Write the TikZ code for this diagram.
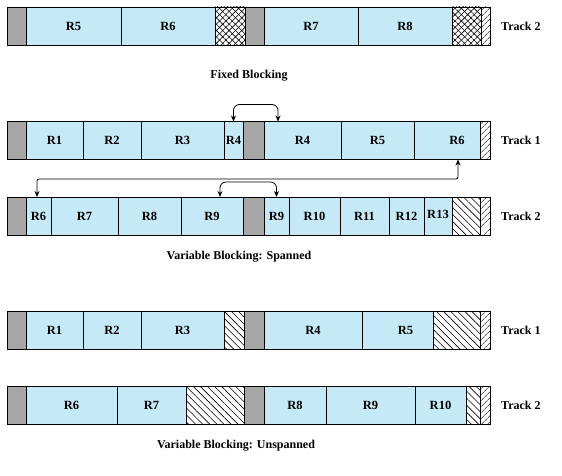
\documentclass[tikz,border=0pt]{standalone}
\usepackage{fontspec}
\setmainfont{Liberation Serif}
\usetikzlibrary{patterns.meta,arrows.meta,calc}
\definecolor{recblue}{RGB}{197,233,247}
\definecolor{hdrgray}{RGB}{166,166,166}
\newcommand\cellbox[6]{\node[#5, minimum width={(#3-#2)*1pt}] (#1) at (#2,#4) {#6};}
\tikzset{
  cellbase/.style={draw=black, line width=0.8pt, inner sep=0pt, outer sep=0pt,
    minimum height=38pt, anchor=west, font=\bfseries\fontsize{12.5}{12.5}\selectfont},
  rec/.style={cellbase, fill=recblue},
  hdr/.style={cellbase, fill=hdrgray},
  gapse/.style={cellbase, fill=white, postaction={pattern={Lines[angle=-45,distance=5pt,line width=0.6pt]}}},
  gapne/.style={cellbase, fill=white, postaction={pattern={Lines[angle=45,distance=4pt,line width=0.6pt]}}},
  gapx/.style={cellbase, fill=white, postaction={pattern={Lines[angle=45,distance=4.5pt,line width=0.6pt]}},
    postaction={pattern={Lines[angle=-45,distance=4.5pt,line width=0.6pt]}}},
  tracklbl/.style={anchor=west, inner sep=0pt, font=\bfseries\fontsize{12}{12}\selectfont},
  caption/.style={inner sep=0pt, font=\bfseries\fontsize{12}{12}\selectfont},
  arr/.style={line width=0.8pt, {Stealth[length=6pt,width=5pt]}-{Stealth[length=6pt,width=5pt]}, rounded corners=6pt},
}
\begin{document}
\begin{tikzpicture}[x=1pt,y=-1pt]
\useasboundingbox (0,0) rectangle (562,476);
% ---------- Row 1: Fixed blocking, Track 2
\cellbox{a1}{7}{26}{26}{hdr}{}
\cellbox{aR5}{26}{121}{26}{rec}{R5}
\cellbox{aR6}{121}{215}{26}{rec}{R6}
\cellbox{ax1}{215}{245}{26}{gapx}{}
\cellbox{a2}{245}{264}{26}{hdr}{}
\cellbox{aR7}{264}{358}{26}{rec}{R7}
\cellbox{aR8}{358}{452}{26}{rec}{R8}
\cellbox{ax2}{452}{481}{26}{gapx}{}
\cellbox{ae}{481}{490}{26}{gapne}{}
\node[tracklbl] (at) at (501,26) {Track 2};
\node[caption] (acap) at (249,76) {Fixed Blocking};
% ---------- Row 2: Spanned, Track 1
\cellbox{b1}{7}{26}{140.5}{hdr}{}
\cellbox{bR1}{26}{83}{140.5}{rec}{R1}
\cellbox{bR2}{83}{141}{140.5}{rec}{R2}
\cellbox{bR3}{141}{224}{140.5}{rec}{R3}
\cellbox{bR4a}{224}{243}{140.5}{rec}{R4}
\cellbox{b2}{243}{264}{140.5}{hdr}{}
\cellbox{bR4b}{264}{341}{140.5}{rec}{R4}
\cellbox{bR5}{341}{414}{140.5}{rec}{R5}
\cellbox{bR6}{414}{480}{140.5}{rec}{\hspace*{20pt}R6}
\cellbox{be}{480}{490}{140.5}{gapne}{}
\node[tracklbl] (bt) at (501,140.5) {Track 1};
% ---------- Row 3: Spanned, Track 2
\cellbox{c1}{7}{26}{216}{hdr}{}
\cellbox{cR6}{26}{51}{216}{rec}{R6}
\cellbox{cR7}{51}{118}{216}{rec}{R7}
\cellbox{cR8}{118}{181}{216}{rec}{R8}
\cellbox{cR9a}{181}{243}{216}{rec}{R9}
\cellbox{c2}{243}{264}{216}{hdr}{}
\cellbox{cR9b}{264}{289}{216}{rec}{R9}
\cellbox{cR10}{289}{340}{216}{rec}{R10}
\cellbox{cR11}{340}{389}{216}{rec}{R11}
\cellbox{cR12}{389}{424}{216}{rec}{R12}
\cellbox{cR13}{424}{452}{216}{rec}{\raisebox{3pt}{R13}}
\cellbox{cs}{452}{480}{216}{gapse}{}
\cellbox{ce}{480}{490}{216}{gapne}{}
\node[tracklbl] (ct) at (501,216) {Track 2};
\node[caption] (ccap) at (239,257) {Variable Blocking: Spanned};
% arrows (spanned)
\draw[arr] (bR4a.north) -- ++(0,-17) -| ([xshift=14pt]bR4b.north west);
\draw[arr] ([xshift=39pt]cR9a.north west) -- ++(0,-15) -| (cR9b.north);
\draw[arr, rounded corners=2pt] ([xshift=-1.5pt]cR6.north) -- ++(0,-18) -| ([xshift=44pt]bR6.south west);
% ---------- Row 4: Unspanned, Track 1
\cellbox{d1}{7}{26}{330}{hdr}{}
\cellbox{dR1}{26}{83}{330}{rec}{R1}
\cellbox{dR2}{83}{141}{330}{rec}{R2}
\cellbox{dR3}{141}{224}{330}{rec}{R3}
\cellbox{ds1}{224}{244}{330}{gapse}{}
\cellbox{d2}{244}{264}{330}{hdr}{}
\cellbox{dR4}{264}{362}{330}{rec}{R4}
\cellbox{dR5}{362}{433}{330}{rec}{\hspace*{16pt}R5}
\cellbox{ds2}{433}{480}{330}{gapse}{}
\cellbox{de}{480}{490}{330}{gapne}{}
\node[tracklbl] (dt) at (501,330) {Track 1};
% ---------- Row 5: Unspanned, Track 2
\cellbox{e1}{7}{26}{405.5}{hdr}{}
\cellbox{eR6}{26}{117}{405.5}{rec}{R6}
\cellbox{eR7}{117}{186}{405.5}{rec}{R7}
\cellbox{es1}{186}{244}{405.5}{gapse}{}
\cellbox{e2}{244}{264}{405.5}{hdr}{}
\cellbox{eR8}{264}{326}{405.5}{rec}{R8}
\cellbox{eR9}{326}{415}{405.5}{rec}{R9}
\cellbox{eR10}{415}{466}{405.5}{rec}{R10}
\cellbox{es2}{466}{480}{405.5}{gapse}{}
\cellbox{ee}{480}{490}{405.5}{gapne}{}
\node[tracklbl] (et) at (501,405.5) {Track 2};
\node[caption] (ecap) at (236,446) {Variable Blocking: Unspanned};
\end{tikzpicture}
\end{document}
